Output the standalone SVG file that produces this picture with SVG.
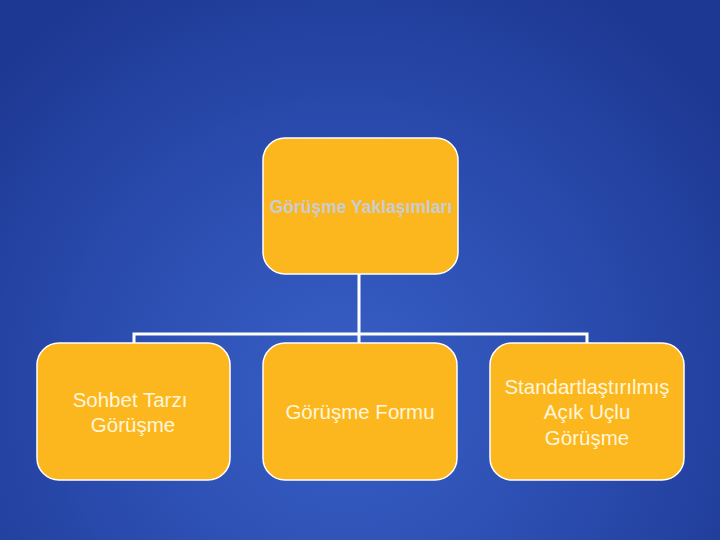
<svg xmlns="http://www.w3.org/2000/svg" width="720" height="540" viewBox="0 0 720 540">
<defs>
<radialGradient id="bg" cx="345" cy="390" r="470" gradientUnits="userSpaceOnUse">
<stop offset="0" stop-color="#3860C6"/>
<stop offset="0.55" stop-color="#2A4BAE"/>
<stop offset="1" stop-color="#1D3892"/>
</radialGradient>
<style>
.box{fill:#FDB71E;stroke:#FFFFFF;stroke-width:1.5}
.conn{fill:none;stroke:#FFFFFF;stroke-width:3}
.lbl{font-family:"Liberation Sans",Arial,sans-serif;font-size:20.5px;fill:#FFF6DC;text-anchor:middle}
.title{font-family:"Liberation Sans",Arial,sans-serif;font-size:17.5px;font-weight:bold;fill:#C9CCD0;text-anchor:middle}
</style>
</defs>
<rect width="720" height="540" fill="url(#bg)"/>
<g id="connectors">
<path class="conn" d="M359 274 V334 M134 343 V334 H587 V343 M359 334 V343"/>
</g>
<g id="root">
<rect class="box" x="263" y="138" width="195" height="136" rx="22"/>
<text class="title" x="361" y="213">Görüşme Yaklaşımları</text>
</g>
<g id="sohbet">
<rect class="box" x="37" y="343" width="193" height="137" rx="22"/>
<text class="lbl" x="130" y="407">Sohbet Tarzı</text>
<text class="lbl" x="133" y="432">Görüşme</text>
</g>
<g id="form">
<rect class="box" x="263" y="343" width="194" height="137" rx="22"/>
<text class="lbl" x="360" y="419">Görüşme Formu</text>
</g>
<g id="standart">
<rect class="box" x="490" y="343" width="194" height="137" rx="22"/>
<text class="lbl" x="587" y="394">Standartlaştırılmış</text>
<text class="lbl" x="587" y="419">Açık Uçlu</text>
<text class="lbl" x="587" y="445">Görüşme</text>
</g>
</svg>
